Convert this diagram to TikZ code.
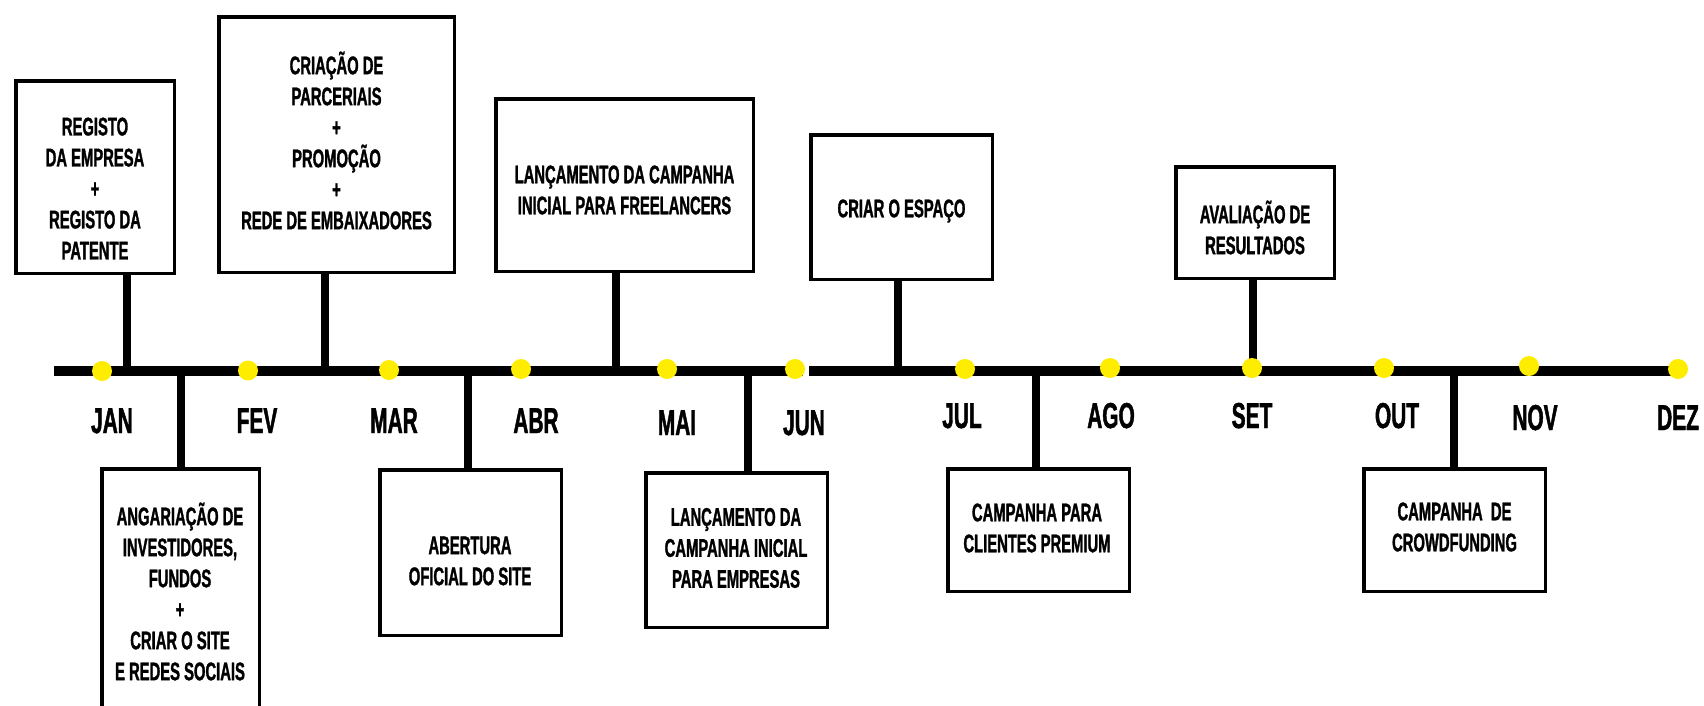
\documentclass[tikz,border=0pt]{standalone}
\usepackage{fontspec}
\newfontfamily\bebas{Liberation Sans}[FakeStretch=0.58, BoldFeatures={FakeBold=1.2}]
\definecolor{dotyellow}{RGB}{255,237,0}
\begin{document}
\begin{tikzpicture}[x=1pt,y=-1pt,
  box/.style={draw=black, line width=3.5pt, fill=white, inner sep=0pt},
  txt/.style={font=\bebas\bfseries\fontsize{25.5}{31}\selectfont, align=center, inner sep=0pt, text=black},
  month/.style={font=\bebas\bfseries\fontsize{36}{40}\selectfont, anchor=base, inner sep=0pt, text=black},
  tl/.style={line width=10pt, black},
  stem/.style={line width=8pt, black},
  dot/.style={circle, fill=dotyellow, minimum size=20pt, inner sep=0pt}]
\useasboundingbox (0,0) rectangle (1704,705);
\clip (0,0) rectangle (1704,705);
\fill[white] (0,0) rectangle (1704,705);

% timeline
\coordinate (tlA) at (54,371);
\coordinate (tlB) at (803,371);
\coordinate (tlC) at (809,371);
\coordinate (tlD) at (1680,371);
\draw[tl] (tlA) -- (tlB);
\draw[tl] (tlC) -- (tlD);

% boxes
\node[box, minimum width=158.5, minimum height=192.5] (b1) at (95,177) {};
\node[box, minimum width=235.5, minimum height=255.5] (b2) at (336.5,144.5) {};
\node[box, minimum width=257.5, minimum height=172.5] (b3) at (624.5,185) {};
\node[box, minimum width=181.5, minimum height=144.5] (b4) at (901.5,207) {};
\node[box, minimum width=158.5, minimum height=111.5] (b5) at (1255,222.5) {};
\node[box, minimum width=157.5, minimum height=289.5] (b6) at (180.5,613.5) {};
\node[box, minimum width=181.5, minimum height=165.5] (b7) at (470.5,552.5) {};
\node[box, minimum width=181.5, minimum height=154.5] (b8) at (736.5,550) {};
\node[box, minimum width=181.5, minimum height=122.5] (b9) at (1038.5,530) {};
\node[box, minimum width=181.5, minimum height=122.5] (b10) at (1454.5,530) {};

% stem anchor points on the timeline
\coordinate (s1) at (127,371);
\coordinate (s2) at (324.5,371);
\coordinate (s3) at (616,371);
\coordinate (s4) at (897.5,376);
\coordinate (s5) at (1252.5,371);
\coordinate (s6) at (181,371);
\coordinate (s7) at (467.5,371);
\coordinate (s8) at (748,371);
\coordinate (s9) at (1036,371);
\coordinate (s10) at (1454,371);

\draw[stem] (b1.south -| s1) -- (s1);
\draw[stem] (b2.south -| s2) -- (s2);
\draw[stem] (b3.south -| s3) -- (s3);
\draw[stem] (b4.south -| s4) -- (s4);
\draw[stem] (b5.south -| s5) -- (s5);
\draw[stem] (b6.north -| s6) -- (s6);
\draw[stem] (b7.north -| s7) -- (s7);
\draw[stem] (b8.north -| s8) -- (s8);
\draw[stem] (b9.north -| s9) -- (s9);
\draw[stem] (b10.north -| s10) -- (s10);

% dots
\node[dot] (d1) at (102,371) {};
\node[dot] (d2) at (248,370.5) {};
\node[dot] (d3) at (389,370) {};
\node[dot] (d4) at (521,369) {};
\node[dot] (d5) at (667,369) {};
\node[dot] (d6) at (795,369) {};
\node[dot] (d7) at (965,369) {};
\node[dot] (d8) at (1110,368) {};
\node[dot] (d9) at (1252,368) {};
\node[dot] (d10) at (1384,368) {};
\node[dot] (d11) at (1529,366) {};
\node[dot] (d12) at (1678,369) {};

% month labels
\node[month] (m1) at (112,433) {JAN};
\node[month] (m2) at (257,433) {FEV};
\node[month] (m3) at (394,433) {MAR};
\node[month] (m4) at (536,433) {ABR};
\node[month] (m5) at (677,435) {MAI};
\node[month] (m6) at (804,435) {JUN};
\node[month] (m7) at (962,428) {JUL};
\node[month] (m8) at (1111,428) {AGO};
\node[month] (m9) at (1252,428) {SET};
\node[month] (m10) at (1397,428) {OUT};
\node[month] (m11) at (1535,430) {NOV};
\node[month] (m12) at (1678,430) {DEZ};

% box texts
\node[txt] (t1) at (95,188.5) {REGISTO\\DA EMPRESA\\+\\REGISTO DA\\PATENTE};
\node[txt] (t2) at (336.5,140.5) {CRIAÇÃO DE\\PARCERIAIS\\+\\PROMOÇÃO\\+\\REDE DE EMBAIXADORES};
\node[txt] (t3) at (624.5,190) {LANÇAMENTO DA CAMPANHA\\INICIAL PARA FREELANCERS};
\node[txt] (t4) at (901.5,211) {CRIAR O ESPAÇO};
\node[txt] (t5) at (1255,227.5) {AVALIAÇÃO DE\\RESULTADOS};
\node[txt] (t6) at (180,591.5) {ANGARIAÇÃO DE\\INVESTIDORES,\\FUNDOS\\+\\CRIAR O SITE\\E REDES SOCIAIS};
\node[txt] (t7) at (470,561) {ABERTURA\\OFICIAL DO SITE};
\node[txt] (t8) at (736,548) {LANÇAMENTO DA\\CAMPANHA INICIAL\\PARA EMPRESAS};
\node[txt] (t9) at (1037,528) {CAMPANHA PARA\\CLIENTES PREMIUM};
\node[txt] (t10) at (1454.5,527) {CAMPANHA\ \ DE\\CROWDFUNDING};
\end{tikzpicture}
\end{document}
